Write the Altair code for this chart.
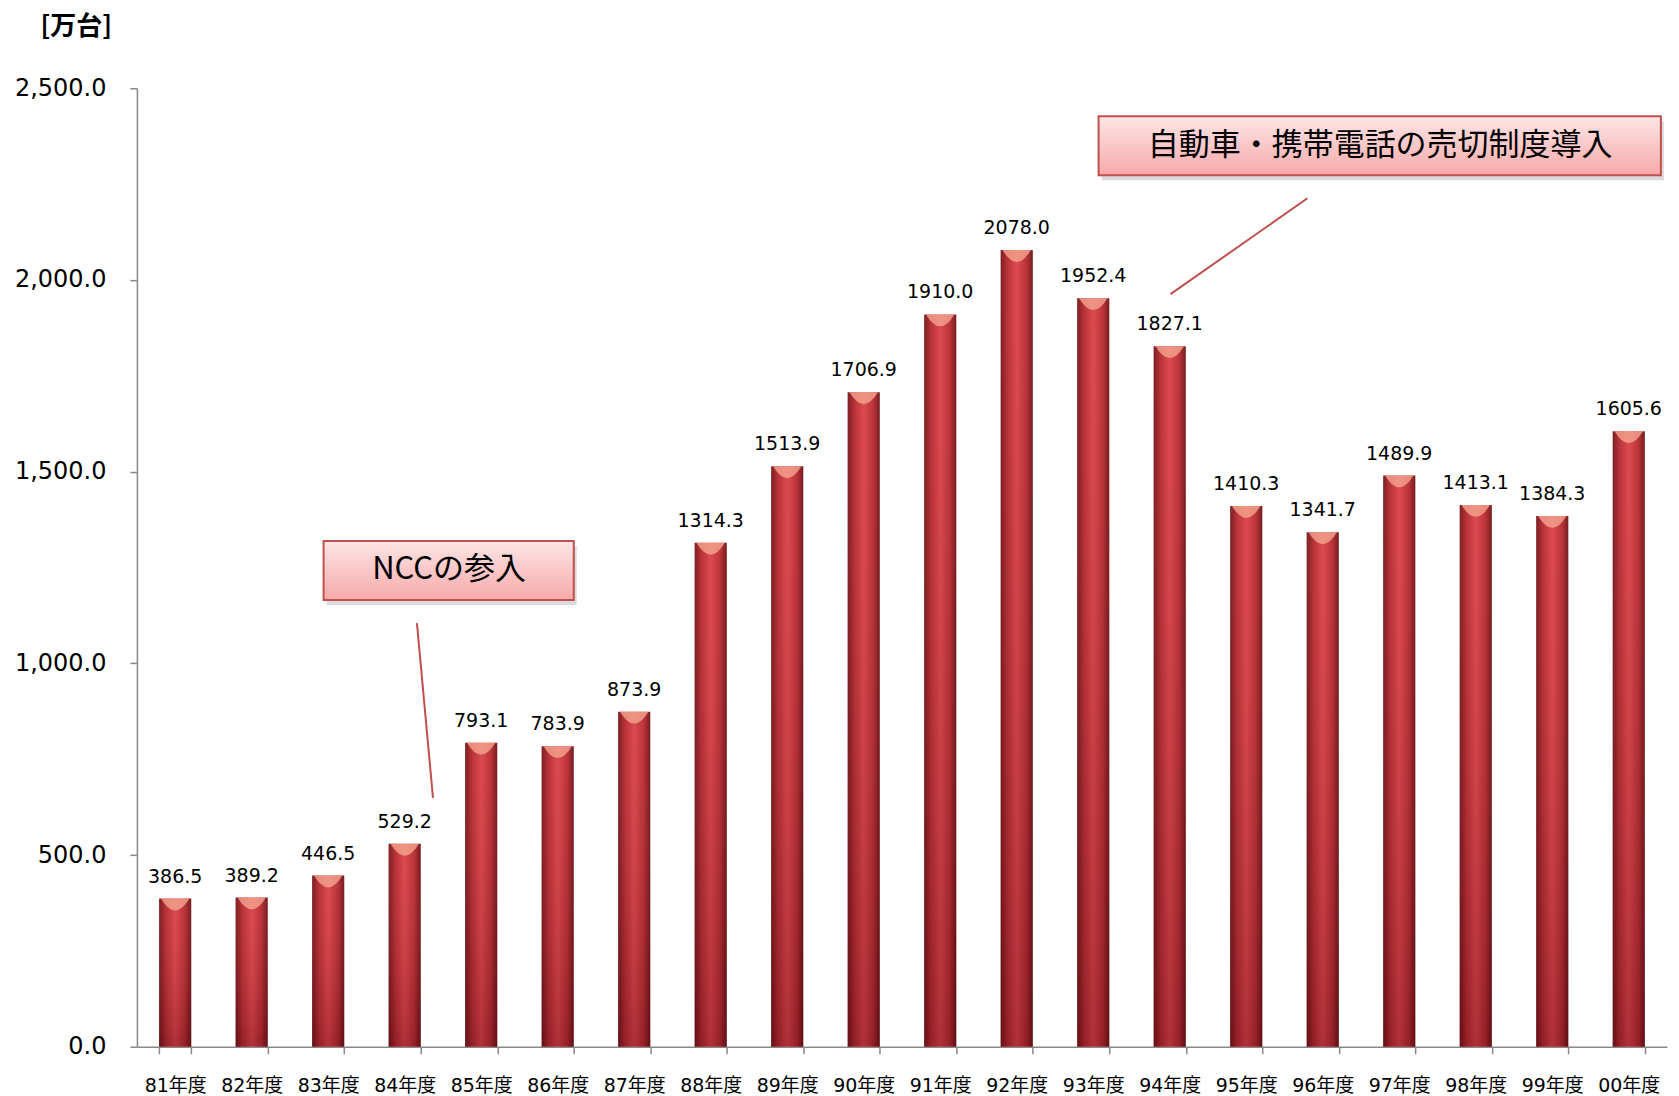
import altair as alt
import pandas as pd

years = ["81年度", "82年度", "83年度", "84年度", "85年度", "86年度", "87年度",
         "88年度", "89年度", "90年度", "91年度", "92年度", "93年度", "94年度",
         "95年度", "96年度", "97年度", "98年度", "99年度", "00年度"]
values = [386.5, 389.2, 446.5, 529.2, 793.1, 783.9, 873.9,
          1314.3, 1513.9, 1706.9, 1910.0, 2078.0, 1952.4, 1827.1,
          1410.3, 1341.7, 1489.9, 1413.1, 1384.3, 1605.6]
notes = ["NCCの参入", "自動車・携帯電話の売切制度導入"]
unit_title = "[万台]"

df = pd.DataFrame({"year": years, "value": values})

# annotation placement (in index / data units of the chart)
ann = pd.DataFrame({
    "note": notes,
    "bx0": [2.44, 12.57], "bx1": [5.71, 19.92],
    "by0": [1165, 2273], "by1": [1319, 2427],
    "tx": [4.08, 16.25], "ty": [1243, 2350],
    "lx0": [3.66, 15.30], "ly0": [1105, 2213],
    "lx1": [3.87, 13.51], "ly1": [649, 1963],
})

W, H = 1531, 959
FONT = "DejaVu Sans, Noto Sans CJK JP"
CJK = "Noto Sans CJK JP"

xband = alt.X("year:N", sort=years,
              scale=alt.Scale(paddingInner=0.58, paddingOuter=0.29),
              axis=alt.Axis(title=None, labelAngle=0, labelFont=FONT, labelFontSize=19,
                            labelColor="black", tickBand="extent", tickSize=7,
                            labelPadding=23, domainColor="#888", tickColor="#888",
                            domainWidth=1.5, tickWidth=1.5))
yq = alt.Y("value:Q", scale=alt.Scale(domain=[0, 2500], nice=False),
           axis=alt.Axis(title=None, values=[0, 500, 1000, 1500, 2000, 2500],
                         format=",.1f", labelFont=FONT, labelFontSize=24,
                         labelColor="black", tickSize=7, labelPadding=24,
                         grid=False, domainColor="#888", tickColor="#888",
                         domainWidth=1.5, tickWidth=1.5))

hgrad = alt.Gradient(gradient="linear", x1=0, x2=1, y1=0, y2=0, stops=[
    alt.GradientStop(color="#6e1518", offset=0),
    alt.GradientStop(color="#b32c33", offset=0.22),
    alt.GradientStop(color="#d9454b", offset=0.5),
    alt.GradientStop(color="#b32c33", offset=0.8),
    alt.GradientStop(color="#661316", offset=1),
])
vgrad = alt.Gradient(gradient="linear", x1=0, x2=0, y1=0, y2=1, stops=[
    alt.GradientStop(color="rgba(255,120,120,0.10)", offset=0),
    alt.GradientStop(color="rgba(70,0,10,0.28)", offset=1),
])

base = alt.Chart(df)
bars = base.mark_bar(color=hgrad).encode(x=xband, y=yq)
shade = base.mark_bar(color=vgrad).encode(x=xband, y=yq)
caps = base.mark_point(shape="M -0.9 0 L 0.9 0 Q 0 1.5 -0.9 0 Z", filled=True,
                       fill="#f4a58e", opacity=0.8, size=1000, strokeWidth=0).encode(x=xband, y=yq)
vals = base.mark_text(baseline="bottom", dy=-12, font=FONT, fontSize=19, color="black").encode(
    x=xband, y=yq, text=alt.Text("value:Q", format=".1f"))
bar_layer = alt.layer(bars, shade, caps, vals)

xs = alt.Scale(domain=[0, 20], nice=False, zero=False)
ys = alt.Scale(domain=[0, 2500], nice=False)
abase = alt.Chart(ann)
boxgrad = alt.Gradient(gradient="linear", x1=0, x2=0, y1=0, y2=1, stops=[
    alt.GradientStop(color="#fde6e6", offset=0),
    alt.GradientStop(color="#f6a9a9", offset=1),
])
shadow = abase.mark_rect(color="#999999", opacity=0.35, xOffset=3, x2Offset=3,
                         yOffset=5, y2Offset=5).encode(
    x=alt.X("bx0:Q", scale=xs, axis=None), x2="bx1:Q",
    y=alt.Y("by0:Q", scale=ys, axis=None), y2="by1:Q")
boxes = abase.mark_rect(color=boxgrad, stroke="#c0504d", strokeWidth=2).encode(
    x=alt.X("bx0:Q", scale=xs, axis=None), x2="bx1:Q",
    y=alt.Y("by0:Q", scale=ys, axis=None), y2="by1:Q")
texts = abase.mark_text(font=CJK, fontSize=31, color="black", baseline="middle").encode(
    x=alt.X("tx:Q", scale=xs, axis=None), y=alt.Y("ty:Q", scale=ys, axis=None), text="note:N")
lines = abase.mark_rule(color="#c0504d", strokeWidth=2).encode(
    x=alt.X("lx0:Q", scale=xs, axis=None), x2="lx1:Q",
    y=alt.Y("ly0:Q", scale=ys, axis=None), y2="ly1:Q")
ann_layer = alt.layer(shadow, boxes, texts, lines)

chart = alt.layer(bar_layer, ann_layer).resolve_scale(x="independent", y="independent").properties(
    width=W, height=H,
    padding={"left": 6, "top": 6, "right": 4, "bottom": 0},
    title=alt.TitleParams(unit_title, anchor="start", frame="bounds", dx=26, offset=36,
                          font=CJK, fontSize=26, fontWeight="bold", color="black"),
).configure_view(stroke=None)

chart.save("out.html", embed_options={"renderer": "svg", "actions": False})
